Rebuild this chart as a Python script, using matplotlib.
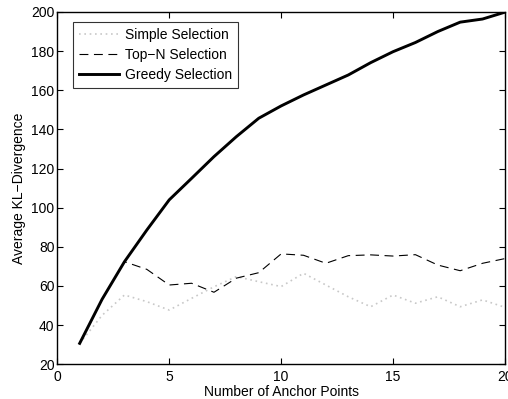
import matplotlib
matplotlib.use('Agg')
import matplotlib.pyplot as plt
import numpy as np

plt.rcParams['font.family'] = ['Liberation Sans', 'DejaVu Sans']

anchors = np.arange(1, 21)
simple = [30.7, 45, 55.4, 52, 47.7, 53.7, 59.6, 64.8, 62.2, 59.7,
          66.5, 60.5, 54.5, 49.4, 55.4, 51.2, 54.5, 49.4, 52.9, 49.1]
top_n = [30.7, 53.2, 72.4, 68.5, 60.5, 61.4, 56.8, 64, 66.8, 76.4,
         75.7, 71.6, 75.5, 75.9, 75.3, 76, 70.7, 67.8, 71.6, 74]
greedy = [30.7, 53.2, 72.4, 88.6, 104, 115, 126.1, 136.3, 145.7, 152,
          157.6, 162.7, 167.8, 174.1, 179.7, 184.4, 190, 194.8, 196.4, 199.9]

fig = plt.figure(figsize=(5.08, 3.99), dpi=100)
ax = fig.add_axes([0.1128, 0.087, 0.8812, 0.883])

ax.plot(anchors, simple, color='#c8c8c8', lw=1.2, linestyle=(0, (1, 2.2)),
        label='Simple Selection')
ax.plot(anchors, top_n, color='black', lw=0.8, linestyle=(0, (8, 5)),
        label='Top\u2212N Selection')
ax.plot(anchors, greedy, color='black', lw=2.1, label='Greedy Selection')

ax.set_xlim(0, 20)
ax.set_ylim(20, 200)
ax.set_xticks([0, 5, 10, 15, 20])
ax.set_yticks(np.arange(20, 201, 20))
ax.tick_params(direction='in', top=True, right=True, labelsize=10,
               length=4, width=0.8)
ax.tick_params(axis='x', pad=4)
ax.tick_params(axis='y', pad=2)
for s in ax.spines.values():
    s.set_linewidth(1.0)

ax.set_xlabel('Number of Anchor Points', fontsize=10, labelpad=1)
ax.set_ylabel('Average KL\u2212Divergence', fontsize=10, labelpad=4)

leg = ax.legend(loc='upper left', bbox_to_anchor=(0.034, 0.972),
                borderaxespad=0, fontsize=10, frameon=True, fancybox=False,
                edgecolor='black', handlelength=2.9, handletextpad=0.4,
                borderpad=0.45, labelspacing=0.42)
leg.get_frame().set_linewidth(0.8)

fig.savefig('out.png', dpi=100)
